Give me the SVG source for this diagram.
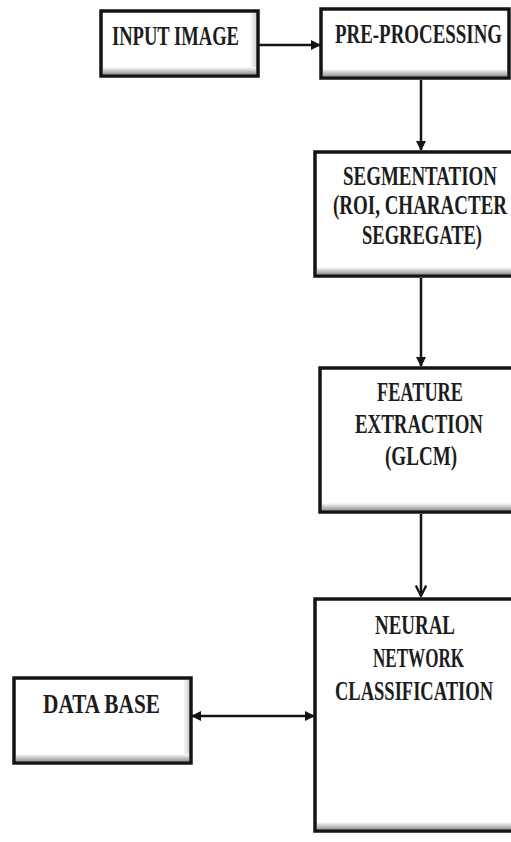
<svg xmlns="http://www.w3.org/2000/svg" width="511" height="842" viewBox="0 0 511 842">
  <style>
    .box { fill: #ffffff; stroke: #141414; stroke-width: 3.5; }
    .bevel { fill: url(#bevelGrad); }
    .side { fill: url(#sideGrad); }
    .lbl { font-family: "Liberation Serif", "Times New Roman", serif; font-weight: bold; font-size: 28px; fill: #1c1c1c; }
    .conn { stroke: #141414; stroke-width: 2.5; fill: none; }
  </style>
  <defs>
    <linearGradient id="bevelGrad" x1="0" y1="0" x2="0" y2="1">
      <stop offset="0" stop-color="#ffffff"/>
      <stop offset="1" stop-color="#9a9a9a"/>
    </linearGradient>
    <linearGradient id="sideGrad" x1="0" y1="0" x2="1" y2="0">
      <stop offset="0" stop-color="#ffffff"/>
      <stop offset="1" stop-color="#d4d4d4"/>
    </linearGradient>
    <marker id="head" viewBox="0 0 10 10" refX="9" refY="5" markerWidth="4" markerHeight="4" orient="auto-start-reverse" markerUnits="strokeWidth">
      <path d="M0,0 L10,5 L0,10 z" fill="#141414"/>
    </marker>
    <marker id="vee" viewBox="0 0 12 12" refX="11" refY="6" markerWidth="5" markerHeight="5" orient="auto" markerUnits="strokeWidth">
      <path d="M1,1 L11,6 L1,11" fill="none" stroke="#141414" stroke-width="2.2"/>
    </marker>
  </defs>

  <rect width="511" height="842" fill="#ffffff"/>

  <!-- connectors -->
  <g id="connectors">
    <line class="conn" x1="258" y1="45" x2="320" y2="45" marker-end="url(#head)"/>
    <line class="conn" x1="421" y1="80" x2="421" y2="150" marker-end="url(#head)"/>
    <line class="conn" x1="421" y1="278" x2="421" y2="366" marker-end="url(#head)"/>
    <line class="conn" x1="421" y1="514" x2="421" y2="596" marker-end="url(#vee)"/>
    <line class="conn" x1="192" y1="716" x2="314" y2="716" marker-start="url(#head)" marker-end="url(#head)"/>
  </g>

  <!-- input image -->
  <g id="input-image">
    <rect class="box" x="101" y="11" width="157" height="65"/>
    <rect class="side" x="250" y="13" width="6" height="61"/>
    <rect class="bevel" x="103" y="67" width="153" height="7"/>
    <text class="lbl" x="112" y="45" textLength="127" lengthAdjust="spacingAndGlyphs">INPUT IMAGE</text>
  </g>

  <!-- pre-processing -->
  <g id="pre-processing">
    <rect class="box" x="321" y="9" width="188" height="69"/>
    <rect class="bevel" x="323" y="69" width="184" height="7"/>
    <text class="lbl" x="335" y="43" textLength="167" lengthAdjust="spacingAndGlyphs">PRE-PROCESSING</text>
  </g>

  <!-- segmentation -->
  <g id="segmentation">
    <rect class="box" x="315" y="152" width="200" height="124"/>
    <rect class="bevel" x="317" y="267" width="196" height="7"/>
    <text class="lbl" x="343" y="185" textLength="154" lengthAdjust="spacingAndGlyphs">SEGMENTATION</text>
    <text class="lbl" x="333" y="214" textLength="174" lengthAdjust="spacingAndGlyphs">(ROI, CHARACTER</text>
    <text class="lbl" x="362" y="244" textLength="120" lengthAdjust="spacingAndGlyphs">SEGREGATE)</text>
  </g>

  <!-- feature extraction -->
  <g id="feature-extraction">
    <rect class="box" x="320" y="368" width="195" height="144"/>
    <rect class="bevel" x="322" y="503" width="191" height="7"/>
    <text class="lbl" x="377" y="401" textLength="86" lengthAdjust="spacingAndGlyphs">FEATURE</text>
    <text class="lbl" x="355" y="433" textLength="128" lengthAdjust="spacingAndGlyphs">EXTRACTION</text>
    <text class="lbl" x="385" y="465" textLength="72" lengthAdjust="spacingAndGlyphs">(GLCM)</text>
  </g>

  <!-- neural network classification -->
  <g id="neural-network">
    <rect class="box" x="315" y="599" width="200" height="232"/>
    <rect class="bevel" x="317" y="822" width="196" height="7"/>
    <text class="lbl" x="375" y="634" textLength="80" lengthAdjust="spacingAndGlyphs">NEURAL</text>
    <text class="lbl" x="373" y="667" textLength="91" lengthAdjust="spacingAndGlyphs">NETWORK</text>
    <text class="lbl" x="335" y="700" textLength="158" lengthAdjust="spacingAndGlyphs">CLASSIFICATION</text>
  </g>

  <!-- data base -->
  <g id="data-base">
    <rect class="box" x="14" y="678" width="177" height="85"/>
    <rect class="side" x="183" y="680" width="6" height="81"/>
    <rect class="bevel" x="16" y="754" width="173" height="7"/>
    <text class="lbl" x="43" y="713" textLength="117" lengthAdjust="spacingAndGlyphs">DATA BASE</text>
  </g>
</svg>
